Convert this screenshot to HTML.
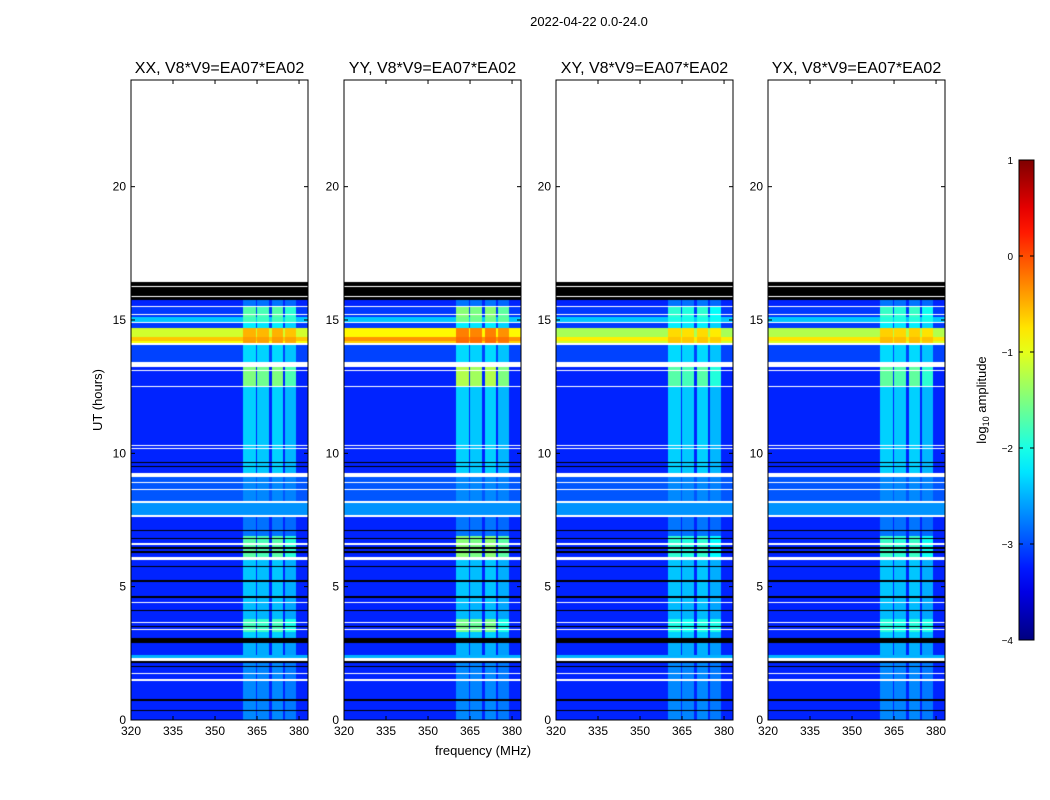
<!DOCTYPE html>
<html><head><meta charset="utf-8">
<style>
body{margin:0;background:#fff;width:1050px;height:800px;overflow:hidden;font-family:"Liberation Sans",sans-serif;}
</style></head>
<body>
<svg id="fig" width="1050" height="800" xmlns="http://www.w3.org/2000/svg" style="position:absolute;left:0;top:0">
<text x="589" y="26" font-size="13" text-anchor="middle">2022-04-22 0.0-24.0</text>
<text x="102" y="400" font-size="13" text-anchor="middle" transform="rotate(-90 102 400)">UT (hours)</text>
<text x="483" y="755" font-size="13" text-anchor="middle">frequency (MHz)</text>
<g id="panels"></g>
<g id="cbar"></g>
</svg>
<script>
const panelNames=["XX, V8*V9=EA07*EA02","YY, V8*V9=EA07*EA02","XY, V8*V9=EA07*EA02","YX, V8*V9=EA07*EA02"];
const panelOffset=[0,0.25,-0.2,-0.15];
const segStart=[0,2.2,2.32,2.45,2.9,3.3,3.8,4.4,6.0,6.9,7.65,8.15,9.1,12.5,13.25,14.1,14.2,14.36,14.7,14.9,15.1,15.5];
const segEnd  =[2.2,2.32,2.45,2.9,3.3,3.8,4.4,6.0,6.9,7.65,8.15,9.1,12.5,13.25,14.1,14.2,14.36,14.7,14.9,15.1,15.5,15.8];
const segBase =[-3.2,-3.1,-2.5,-3.2,-3.2,-3.2,-3.2,-3.2,-3.2,-3.2,-2.65,-2.95,-3.2,-3.2,-3.05,-0.9,-0.6,-1.1,-3.1,-2.4,-3.1,-3.2];
const segRfi  =[-2.7,-2.7,-2.5,-2.5,-2.35,-1.8,-2.45,-2.4,-1.7,-2.8,-2.65,-2.7,-2.35,-1.5,-2.3,-0.4,-0.4,-0.5,-2.2,-1.8,-1.7,-2.8];
const bandLo=[360,365,370.4,375];
const bandHi=[364.6,369.3,374.3,379];
const bandGain=[1,0.95,1,0.85];
const blackStart=[15.75,9.62,9.48,7.08,6.78,6.42,6.28,5.72,5.18,4.58,4.08,3.48,2.9,2.15,1.98,0.73,0.33];
const blackEnd  =[16.43,9.68,9.54,7.13,6.83,6.5,6.34,5.78,5.24,4.64,4.14,3.54,3.06,2.2,2.02,0.79,0.39];
const whiteStart=[16.43,16.25,15.86,15.48,15.17,14.9,14.08,13.23,13.08,12.5,10.28,10.17,9.1,8.9,8.62,8.15,7.62,6.58,6.0,4.38,3.63,3.38,2.2,1.73,1.48];
const whiteEnd  =[24,16.29,15.9,15.53,15.21,14.94,14.12,13.42,13.12,12.54,10.32,10.21,9.26,8.93,8.65,8.2,7.67,6.62,6.1,4.42,3.67,3.42,2.32,1.77,1.52];
const xTicks=[320,335,350,365,380];
const yTicks=[0,5,10,15,20];
const cbTicks=[1,0,-1,-2,-3,-4];

const NS="http://www.w3.org/2000/svg";
const panelX=[131,344,556,768], PW=177, PT=80, PH=640;
const FMIN=320,FMAX=383.2,TMIN=0,TMAX=24,VMIN=-4,VMAX=1;
function jet(v){let t=(v-VMIN)/(VMAX-VMIN);t=Math.max(0,Math.min(1,t));
 const c=x=>Math.max(0,Math.min(1,x));
 const r=c(1.5-Math.abs(4*t-3)),g=c(1.5-Math.abs(4*t-2)),b=c(1.5-Math.abs(4*t-1));
 return [r*255|0,g*255|0,b*255|0];}
function el(tag,attrs,parent){const e=document.createElementNS(NS,tag);for(const k in attrs)e.setAttribute(k,attrs[k]);parent.appendChild(e);return e;}
const panels=document.getElementById('panels');
panelNames.forEach((nm,p)=>{
 const x0=panelX[p];
 const sx=f=>x0+(f-FMIN)/(FMAX-FMIN)*PW;
 const sy=t=>PT+PH-(t-TMIN)/(TMAX-TMIN)*PH;
 const g=el('g',{},panels);
 
 
 const cv=document.createElement('canvas');cv.width=PW;cv.height=PH;
 const ctx=cv.getContext('2d');const img=ctx.createImageData(PW,PH);
 for(let py=0;py<PH;py++){
  const t=TMAX-(py+0.5)/PH*(TMAX-TMIN);
  let base=null,rfi=null;
  for(let i=0;i<segStart.length;i++){if(t>=segStart[i]&&t<segEnd[i]){base=segBase[i];rfi=segRfi[i];break;}}
  let col=null;
  for(let i=0;i<blackStart.length;i++)if(t>=blackStart[i]&&t<blackEnd[i])col=[0,0,0];
  for(let i=0;i<whiteStart.length;i++)if(t>=whiteStart[i]&&t<whiteEnd[i])col=[255,255,255];
  for(let px=0;px<PW;px++){
   const f=FMIN+(px+0.5)/PW*(FMAX-FMIN);
   let c=col;
   if(!c){
    if(base===null)c=[255,255,255];else{
     let v=base;
     for(let b=0;b<bandLo.length;b++)if(f>=bandLo[b]&&f<bandHi[b]){v=Math.max(base,base+(rfi-base)*bandGain[b]);}
     if(v>-2.0)v+=panelOffset[p];
     c=jet(v);}
   }
   const k=(py*PW+px)*4;img.data[k]=c[0];img.data[k+1]=c[1];img.data[k+2]=c[2];img.data[k+3]=255;
  }
 }
 ctx.putImageData(img,0,0);
 const im=el('image',{x:x0,y:PT,width:PW,height:PH,href:cv.toDataURL()},g);
 
 
 const fr=el('rect',{x:x0,y:PT,width:PW,height:PH,fill:'none',stroke:'#000','stroke-width':1},g);
 
 
 const tt=el('text',{x:x0+PW/2,y:PT-7,'font-size':16,'text-anchor':'middle'},g);tt.textContent=nm;
 
 
 xTicks.forEach(v=>{const X=sx(v);
  el('line',{x1:X,x2:X,y1:PT+PH,y2:PT+PH-4,stroke:'#000'},g);
  el('line',{x1:X,x2:X,y1:PT,y2:PT+4,stroke:'#000'},g);
  const l=el('text',{x:X,y:PT+PH+15,'font-size':12,'text-anchor':'middle'},g);l.textContent=v;
  
  });
 yTicks.forEach(v=>{const Y=sy(v);
  el('line',{x1:x0,x2:x0+4,y1:Y,y2:Y,stroke:'#000'},g);
  el('line',{x1:x0+PW,x2:x0+PW-4,y1:Y,y2:Y,stroke:'#000'},g);
  const l=el('text',{x:x0-5,y:Y+4,'font-size':12,'text-anchor':'end'},g);l.textContent=v;
  
  });
});
const cb=document.getElementById('cbar');
const CX=1019,CW=15,CT=160,CH=480;
const defs=el('defs',{},cb);const lg=el('linearGradient',{id:'jetg',x1:0,y1:1,x2:0,y2:0},defs);
for(let i=0;i<=20;i++){const v=VMIN+(VMAX-VMIN)*i/20;const c=jet(v);el('stop',{offset:i/20,'stop-color':`rgb(${c[0]},${c[1]},${c[2]})`},lg);}
const cr=el('rect',{x:CX,y:CT,width:CW,height:CH,fill:'url(#jetg)',stroke:'#000'},cb);


cbTicks.forEach(v=>{const Y=CT+CH-(v-VMIN)/(VMAX-VMIN)*CH;
 el('line',{x1:CX,x2:CX+4,y1:Y,y2:Y,stroke:'#000'},cb);
 el('line',{x1:CX+CW,x2:CX+CW-4,y1:Y,y2:Y,stroke:'#000'},cb);
 const l=el('text',{x:CX-6,y:Y+4,'font-size':10,'text-anchor':'end'},cb);l.textContent=v<0?'\u2212'+(-v):v;
 
 });
const cl=el('text',{x:986,y:400,'font-size':13,'text-anchor':'middle',transform:'rotate(-90 986 400)'},cb);
cl.innerHTML='log<tspan font-size="9" dy="3">10</tspan><tspan dy="-3"> amplitude</tspan>';


</script>
</body></html>
